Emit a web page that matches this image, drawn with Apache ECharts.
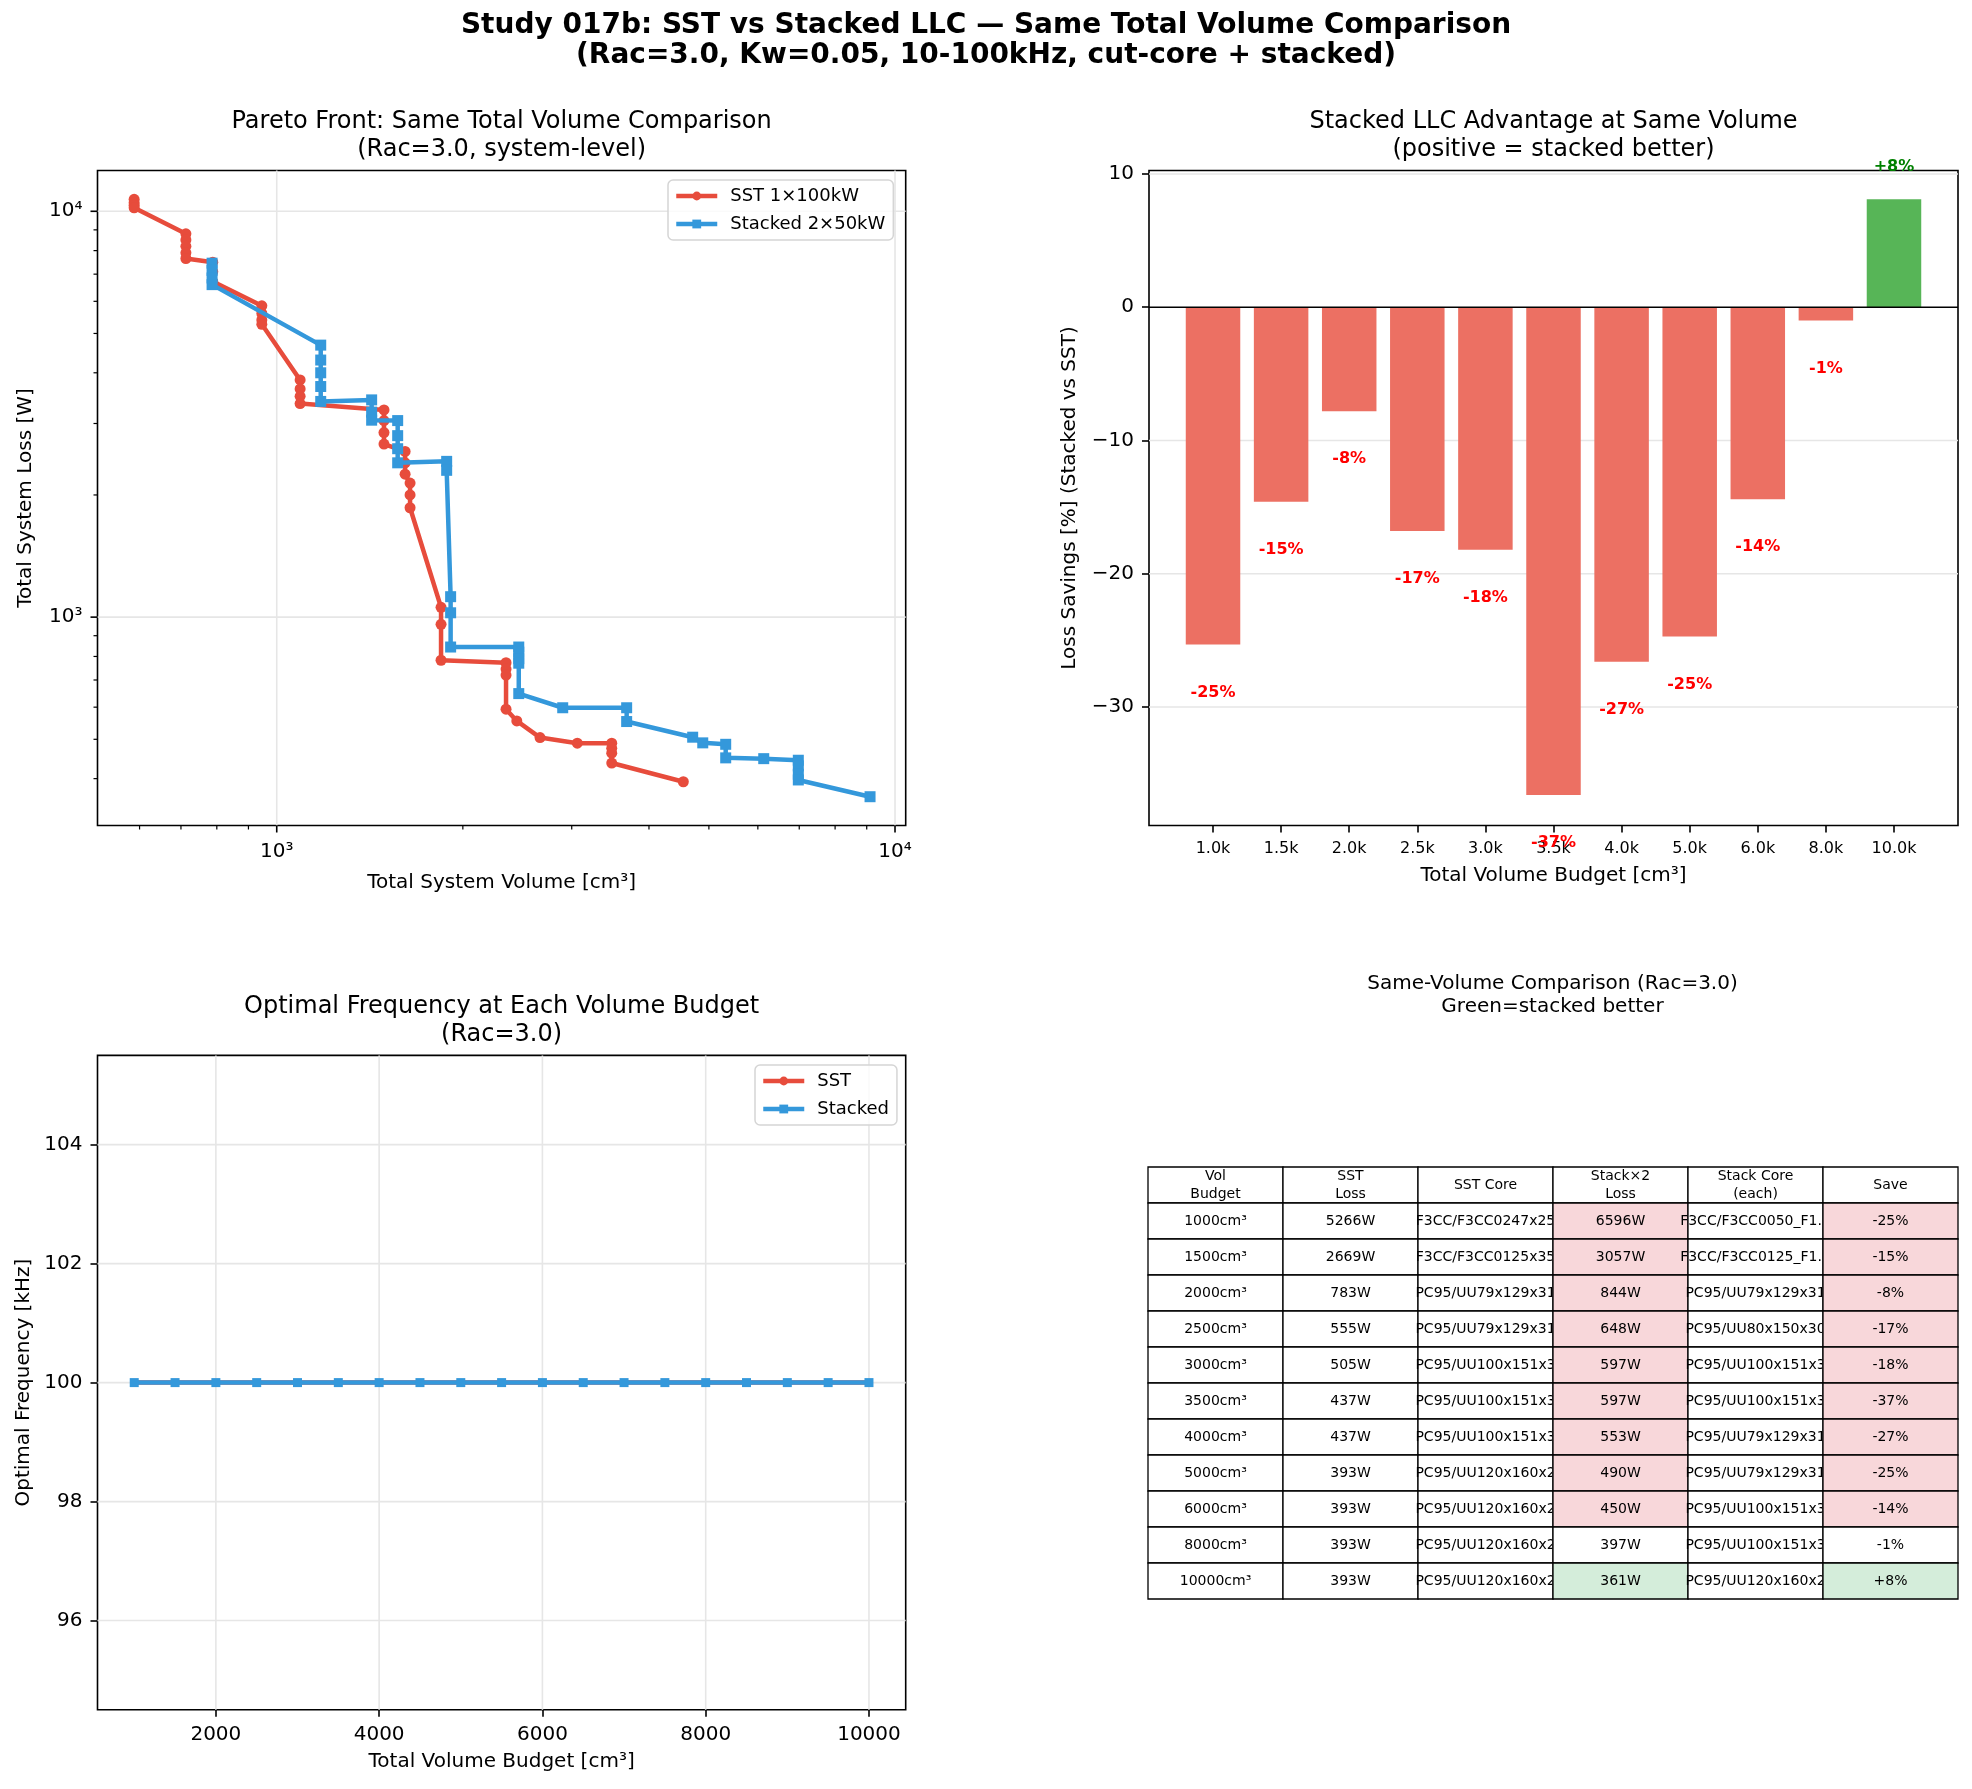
<!DOCTYPE html>
<html>
<head>
<meta charset="utf-8">
<title>Study 017b: SST vs Stacked LLC</title>
<script src="https://cdn.jsdelivr.net/npm/echarts@6/dist/echarts.min.js"></script>
<style>
  html, body { margin: 0; padding: 0; background: #fff; }
  #chart { width: 1972px; height: 1789px; }
</style>
</head>
<body>
<div id="chart"></div>
<script>
// ---- Pareto front data (system volume cm³, system loss W) ----
const sstVolume = [588, 588, 588, 588, 713, 713, 713, 713, 713, 788, 788, 788, 946, 946, 946, 946,
  1091, 1091, 1091, 1091, 1491, 1491, 1491, 1491, 1613, 1613, 1613, 1643, 1643, 1643,
  1844, 1844, 1844, 2349, 2349, 2349, 2349, 2445, 2666, 3063, 3482, 3482, 3482, 3482, 4546];
const sstLoss = [10700, 10500, 10350, 10200, 8800, 8500, 8200, 7900, 7650, 7490, 7100, 6710, 5850, 5600, 5400, 5266,
  3840, 3650, 3500, 3360, 3240, 3050, 2850, 2669, 2560, 2400, 2250, 2140, 2000, 1860,
  1057, 960, 783, 772, 745, 720, 593, 555, 505, 489, 489, 475, 462, 437, 393];
const stackVolume = [786, 786, 786, 786, 1178, 1178, 1178, 1178, 1178, 1424, 1424, 1424,
  1569, 1569, 1569, 1569, 1883, 1883, 1911, 1911, 1911, 2463, 2463, 2463, 2463, 2463,
  2901, 3681, 3681, 4707, 4887, 5323, 5323, 6133, 6976, 6976, 6976, 6976, 9112];
const stackLoss = [7450, 7150, 6850, 6596, 4680, 4300, 4000, 3700, 3400, 3430, 3200, 3057,
  3050, 2800, 2600, 2400, 2420, 2300, 1123, 1025, 844, 844, 820, 790, 770, 648,
  598, 598, 553, 506, 490, 486, 450, 448, 444, 430, 410, 397, 361];

// log-axis tick values
const logMajor = [1000, 10000];
const volMinor = [600, 700, 800, 900, 2000, 3000, 4000, 5000, 6000, 7000, 8000, 9000];
const lossMinor = [400, 500, 600, 700, 800, 900, 2000, 3000, 4000, 5000, 6000, 7000, 8000, 9000];

// ---- savings per volume budget ----
const budgetLabels = ['1.0k', '1.5k', '2.0k', '2.5k', '3.0k', '3.5k', '4.0k', '5.0k', '6.0k', '8.0k', '10.0k'];
const lossSavings = [-25.3, -14.6, -7.8, -16.8, -18.2, -36.6, -26.6, -24.7, -14.4, -1.0, 8.1];
const savingTicks = [-30, -20, -10, 0, 10];

// ---- optimal frequency per budget ----
const freqVolume = [1000, 1500, 2000, 2500, 3000, 3500, 4000, 4500, 5000, 5500, 6000, 6500, 7000, 7500, 8000, 8500, 9000, 9500, 10000];
const sstFreq = [100, 100, 100, 100, 100, 100, 100, 100, 100, 100, 100, 100, 100, 100, 100, 100, 100, 100, 100];
const stackFreq = [100, 100, 100, 100, 100, 100, 100, 100, 100, 100, 100, 100, 100, 100, 100, 100, 100, 100, 100];
const freqXTicks = [2000, 4000, 6000, 8000, 10000];
const freqYTicks = [96, 98, 100, 102, 104];

// ---- comparison table ----
const tableHeader = ['Vol\nBudget', 'SST\nLoss', 'SST Core', 'Stack×2\nLoss', 'Stack Core\n(each)', 'Save'];
const volBudget = ['1000cm³', '1500cm³', '2000cm³', '2500cm³', '3000cm³', '3500cm³', '4000cm³', '5000cm³', '6000cm³', '8000cm³', '10000cm³'];
const sstLossW = [5266, 2669, 783, 555, 505, 437, 437, 393, 393, 393, 393];
const sstCore = ['F3CC/F3CC0247x25', 'F3CC/F3CC0125x35', 'PC95/UU79x129x31', 'PC95/UU79x129x31', 'PC95/UU100x151x3',
  'PC95/UU100x151x3', 'PC95/UU100x151x3', 'PC95/UU120x160x2', 'PC95/UU120x160x2', 'PC95/UU120x160x2', 'PC95/UU120x160x2'];
const stackLossW = [6596, 3057, 844, 648, 597, 597, 553, 490, 450, 397, 361];
const stackCore = ['F3CC/F3CC0050_F1.5', 'F3CC/F3CC0125_F1.5', 'PC95/UU79x129x31', 'PC95/UU80x150x30', 'PC95/UU100x151x3',
  'PC95/UU100x151x3', 'PC95/UU79x129x31', 'PC95/UU79x129x31', 'PC95/UU100x151x3', 'PC95/UU100x151x3', 'PC95/UU120x160x2'];
const saveText = ['-25%', '-15%', '-8%', '-17%', '-18%', '-37%', '-27%', '-25%', '-14%', '-1%', '+8%'];

// ---- styling ----
const RED = '#e74c3c';
const BLUE = '#3498db';
const FONT = 'DejaVu Sans';
const GRID_COLOR = '#e6e6e6';
const TICK_LINE = { color: '#000', width: 1.6 };

const chart = echarts.init(document.getElementById('chart'), null, { renderer: 'canvas' });

function minusFmt(v) {
  return v < 0 ? '\u2212' + (-v) : String(v);
}
function supLabel(v) {
  return v >= 10000 ? '10\u2074' : '10\u00b3';
}

// axis ranges (matplotlib auto-margins)
const paretoXRange = [513, 10406];
const paretoYRange = [306.6, 12604];
const barXRange = [-0.94, 10.94];
const barYRange = [-38.89, 10.26];
const freqXRange = [550, 10450];
const freqYRange = [94.5, 105.5];

// grid / reference lines drawn through the axes: item = [value, 0 vertical | 1 horizontal]
function gridLineSeries(xi, xr, yr, xs, ys, color, width, z) {
  const data = xs.map(v => [v, 0]).concat(ys.map(v => [v, 1]));
  return {
    type: 'custom', xAxisIndex: xi, yAxisIndex: xi, clip: false, silent: true, z: z,
    data: data,
    renderItem: function (params, api) {
      const v = api.value(0);
      const vertical = api.value(1) === 0;
      const a = vertical ? api.coord([v, yr[0]]) : api.coord([xr[0], v]);
      const b = vertical ? api.coord([v, yr[1]]) : api.coord([xr[1], v]);
      return { type: 'line', shape: { x1: a[0], y1: a[1], x2: b[0], y2: b[1] }, style: { stroke: color, lineWidth: width } };
    }
  };
}

// tick marks + labels for the log-log pareto plot
const logTickData = [];
logMajor.forEach(v => logTickData.push([v, paretoYRange[0], 0]));
volMinor.forEach(v => logTickData.push([v, paretoYRange[0], 1]));
logMajor.forEach(v => logTickData.push([paretoXRange[0], v, 2]));
lossMinor.forEach(v => logTickData.push([paretoXRange[0], v, 3]));

function renderLogTicks(params, api) {
  const kind = api.value(2);
  const p = api.coord([api.value(0), api.value(1)]);
  const major = kind === 0 || kind === 2;
  const len = major ? 7 : 4;
  const w = major ? 1.6 : 1.2;
  const out = [];
  if (kind < 2) {
    out.push({ type: 'line', shape: { x1: p[0], y1: p[1], x2: p[0], y2: p[1] + len }, style: { stroke: '#000', lineWidth: w } });
    if (major) {
      out.push({ type: 'text', style: { x: p[0], y: p[1] + 16, text: supLabel(api.value(0)), align: 'center', verticalAlign: 'top', font: '20px "DejaVu Sans"', fill: '#000' } });
    }
  } else {
    out.push({ type: 'line', shape: { x1: p[0], y1: p[1], x2: p[0] - len, y2: p[1] }, style: { stroke: '#000', lineWidth: w } });
    if (major) {
      out.push({ type: 'text', style: { x: p[0] - 15, y: p[1], text: supLabel(api.value(1)), align: 'right', verticalAlign: 'middle', font: '20px "DejaVu Sans"', fill: '#000' } });
    }
  }
  return { type: 'group', children: out };
}

// value labels under / above each saving bar
const savingLabelData = lossSavings.map((v, i) => [i, v < 0 ? v - 3.6 : v + 2.4]);
function renderSavingLabel(params, api) {
  const v = lossSavings[params.dataIndex];
  const p = api.coord([api.value(0), api.value(1)]);
  return {
    type: 'text',
    style: {
      x: p[0], y: p[1], text: (v > 0 ? '+' : '') + v.toFixed(0) + '%',
      align: 'center', verticalAlign: 'middle',
      font: 'bold 16px "DejaVu Sans"', fill: v > 0 ? '#008000' : '#ff0000'
    }
  };
}

// table cells
const tableCells = [];
const tableData = [];
tableHeader.forEach((t, c) => { tableCells.push({ text: t, fill: '#ffffff' }); tableData.push([c, 0]); });
volBudget.forEach((vb, r) => {
  const s = lossSavings[r];
  const hi = s > 0 ? '#d4edda' : (s <= -2 ? '#f8d7da' : '#ffffff');
  const row = [vb, sstLossW[r] + 'W', sstCore[r], stackLossW[r] + 'W', stackCore[r], saveText[r]];
  const fills = ['#ffffff', '#ffffff', '#ffffff', hi, '#ffffff', hi];
  row.forEach((t, c) => { tableCells.push({ text: t, fill: fills[c] }); tableData.push([c, r + 1]); });
});

function renderCellBox(params, api) {
  const cell = tableCells[params.dataIndex];
  const c = api.coord([api.value(0), api.value(1)]);
  const s = api.size([1, 1]);
  return {
    type: 'rect',
    shape: { x: c[0] - s[0] / 2, y: c[1] - s[1] / 2, width: s[0], height: s[1] },
    style: { fill: cell.fill, stroke: '#000', lineWidth: 1.3 }
  };
}
// text may run into the cell on its left, but is hidden by the cell on its right
function renderCellText(params, api) {
  const cell = tableCells[params.dataIndex];
  const c = api.coord([api.value(0), api.value(1)]);
  const s = api.size([1, 1]);
  return {
    type: 'text',
    clipPath: { type: 'rect', shape: { x: c[0] - s[0] / 2 - 40, y: c[1] - s[1] / 2, width: s[0] + 40 - 0.7, height: s[1] } },
    style: { x: c[0], y: c[1], text: cell.text, align: 'center', verticalAlign: 'middle',
      font: '14px "DejaVu Sans"', lineHeight: 18, fill: '#000' }
  };
}

function axisName(gap) {
  return { nameLocation: 'middle', nameGap: gap, nameMoveOverlap: false,
    nameTextStyle: { fontSize: 20, color: '#000', fontFamily: FONT } };
}
function gridBox(left, top, width, height) {
  return { left, top, width, height, show: true, borderColor: '#000', borderWidth: 1.6,
    backgroundColor: '#fff', containLabel: false, outerBoundsMode: 'none' };
}
const NO_LINE = { show: false, onZero: false };
const legendBase = {
  orient: 'vertical', itemWidth: 41, itemHeight: 11, itemGap: 10,
  padding: [7, 8, 7, 6], backgroundColor: 'rgba(255,255,255,0.8)',
  borderColor: '#d5d5d5', borderWidth: 1.5, borderRadius: 5,
  lineStyle: { width: 4.5 },
  textStyle: { fontSize: 18, lineHeight: 18, color: '#000', fontFamily: FONT, padding: [0, 0, 0, 8] }
};

const option = {
  animation: false,
  backgroundColor: '#fff',
  textStyle: { fontFamily: FONT, color: '#000' },
  title: [
    { text: 'Study 017b: SST vs Stacked LLC — Same Total Volume Comparison\n(Rac=3.0, Kw=0.05, 10-100kHz, cut-core + stacked)',
      left: 986, top: 11, textAlign: 'center', padding: 0,
      textStyle: { fontSize: 28, fontWeight: 'bold', lineHeight: 30, color: '#000', fontFamily: FONT } },
    { text: 'Pareto Front: Same Total Volume Comparison\n(Rac=3.0, system-level)',
      left: 501.6, top: 108, textAlign: 'center', padding: 0,
      textStyle: { fontSize: 24, fontWeight: 'normal', lineHeight: 28, color: '#000', fontFamily: FONT } },
    { text: 'Stacked LLC Advantage at Same Volume\n(positive = stacked better)',
      left: 1553.5, top: 108, textAlign: 'center', padding: 0,
      textStyle: { fontSize: 24, fontWeight: 'normal', lineHeight: 28, color: '#000', fontFamily: FONT } },
    { text: 'Optimal Frequency at Each Volume Budget\n(Rac=3.0)',
      left: 501.6, top: 993, textAlign: 'center', padding: 0,
      textStyle: { fontSize: 24, fontWeight: 'normal', lineHeight: 28, color: '#000', fontFamily: FONT } },
    { text: 'Same-Volume Comparison (Rac=3.0)\nGreen=stacked better',
      left: 1552.5, top: 971.6, textAlign: 'center', padding: 0,
      textStyle: { fontSize: 20, fontWeight: 'normal', lineHeight: 23.4, color: '#000', fontFamily: FONT } }
  ],
  legend: [
    Object.assign({}, legendBase, { data: ['SST 1×100kW', 'Stacked 2×50kW'], left: 668, top: 180 }),
    Object.assign({}, legendBase, { data: ['SST', 'Stacked'], left: 755, top: 1065 })
  ],
  grid: [
    gridBox(97.5, 170.5, 808.2, 655),
    gridBox(1149, 170.5, 809, 655),
    gridBox(97.5, 1055.4, 808.2, 654.4),
    { left: 1148, top: 1167, width: 810, height: 432, show: false, containLabel: false, outerBoundsMode: 'none' }
  ],
  xAxis: [
    Object.assign({ gridIndex: 0, type: 'log', logBase: 10, min: paretoXRange[0], max: paretoXRange[1],
      axisLine: NO_LINE, axisTick: { show: false }, axisLabel: { show: false }, splitLine: { show: false },
      minorTick: { show: false }, name: 'Total System Volume [cm³]' }, axisName(47)),
    Object.assign({ gridIndex: 1, type: 'value', min: barXRange[0], max: barXRange[1],
      axisLine: NO_LINE,
      axisTick: { show: true, customValues: budgetLabels.map((_, i) => i), length: 7, lineStyle: TICK_LINE },
      axisLabel: { customValues: budgetLabels.map((_, i) => i), formatter: v => budgetLabels[Math.round(v)],
        fontSize: 16, margin: 15, color: '#000', fontFamily: FONT },
      splitLine: { show: false }, name: 'Total Volume Budget [cm³]' }, axisName(40)),
    Object.assign({ gridIndex: 2, type: 'value', min: freqXRange[0], max: freqXRange[1],
      axisLine: NO_LINE,
      axisTick: { show: true, customValues: freqXTicks, length: 7, lineStyle: TICK_LINE },
      axisLabel: { customValues: freqXTicks, formatter: v => String(v), fontSize: 20, margin: 15, color: '#000', fontFamily: FONT },
      splitLine: { show: false }, name: 'Total Volume Budget [cm³]' }, axisName(42)),
    { gridIndex: 3, type: 'category', data: tableHeader.map((_, i) => i), show: false, axisLine: NO_LINE }
  ],
  yAxis: [
    Object.assign({ gridIndex: 0, type: 'log', logBase: 10, min: paretoYRange[0], max: paretoYRange[1],
      axisLine: NO_LINE, axisTick: { show: false }, axisLabel: { show: false }, splitLine: { show: false },
      minorTick: { show: false }, name: 'Total System Loss [W]' }, axisName(62)),
    Object.assign({ gridIndex: 1, type: 'value', min: barYRange[0], max: barYRange[1],
      axisLine: NO_LINE,
      axisTick: { show: true, customValues: savingTicks, length: 7, lineStyle: TICK_LINE },
      axisLabel: { customValues: savingTicks, formatter: minusFmt, fontSize: 20, margin: 15, color: '#000', fontFamily: FONT },
      splitLine: { show: false }, name: 'Loss Savings [%] (Stacked vs SST)' }, axisName(69)),
    Object.assign({ gridIndex: 2, type: 'value', min: freqYRange[0], max: freqYRange[1],
      axisLine: NO_LINE,
      axisTick: { show: true, customValues: freqYTicks, length: 7, lineStyle: TICK_LINE },
      axisLabel: { customValues: freqYTicks, formatter: v => String(v), fontSize: 20, margin: 15, color: '#000', fontFamily: FONT },
      splitLine: { show: false }, name: 'Optimal Frequency [kHz]' }, axisName(64)),
    { gridIndex: 3, type: 'category', data: ['h'].concat(volBudget), inverse: true, show: false, axisLine: NO_LINE }
  ],
  series: [
    // pareto
    gridLineSeries(0, paretoXRange, paretoYRange, logMajor, logMajor, GRID_COLOR, 1.6, 1),
    {
      type: 'custom', xAxisIndex: 0, yAxisIndex: 0, clip: false, silent: true, z: 1,
      data: logTickData, renderItem: renderLogTicks
    },
    {
      type: 'line', name: 'SST 1×100kW', xAxisIndex: 0, yAxisIndex: 0, z: 3,
      data: sstVolume.map((v, i) => [v, sstLoss[i]]),
      symbol: 'circle', symbolSize: 11, showAllSymbol: true,
      lineStyle: { color: RED, width: 4.5 }, itemStyle: { color: RED }
    },
    {
      type: 'line', name: 'Stacked 2×50kW', xAxisIndex: 0, yAxisIndex: 0, z: 4,
      data: stackVolume.map((v, i) => [v, stackLoss[i]]),
      symbol: 'rect', symbolSize: 11, showAllSymbol: true,
      lineStyle: { color: BLUE, width: 4.5 }, itemStyle: { color: BLUE }
    },
    // savings bars
    gridLineSeries(1, barXRange, barYRange, [], savingTicks.filter(v => v !== 0), GRID_COLOR, 1.6, 1),
    {
      type: 'bar', name: 'savings', xAxisIndex: 1, yAxisIndex: 1, z: 2, barWidth: 54.5,
      data: lossSavings.map((v, i) => ({ value: [i, v], itemStyle: { color: v > 0 ? '#57b557' : '#ec7063' } }))
    },
    gridLineSeries(1, barXRange, barYRange, [], [0], '#000', 1.6, 4),
    {
      type: 'custom', xAxisIndex: 1, yAxisIndex: 1, z: 6, clip: false, silent: true,
      data: savingLabelData, renderItem: renderSavingLabel
    },
    // optimal frequency
    gridLineSeries(2, freqXRange, freqYRange, freqXTicks, freqYTicks, GRID_COLOR, 1.6, 1),
    {
      type: 'line', name: 'SST', xAxisIndex: 2, yAxisIndex: 2, z: 3,
      data: freqVolume.map((v, i) => [v, sstFreq[i]]),
      symbol: 'circle', symbolSize: 7, showAllSymbol: true,
      lineStyle: { color: RED, width: 4.5 }, itemStyle: { color: RED }
    },
    {
      type: 'line', name: 'Stacked', xAxisIndex: 2, yAxisIndex: 2, z: 4,
      data: freqVolume.map((v, i) => [v, stackFreq[i]]),
      symbol: 'rect', symbolSize: 9, showAllSymbol: true,
      lineStyle: { color: BLUE, width: 4.5 }, itemStyle: { color: BLUE }
    },
    // comparison table
    {
      type: 'custom', xAxisIndex: 3, yAxisIndex: 3, clip: false, silent: true, z: 2,
      data: tableData, renderItem: renderCellBox
    },
    {
      type: 'custom', xAxisIndex: 3, yAxisIndex: 3, clip: false, silent: true, z: 3,
      data: tableData, renderItem: renderCellText
    }
  ]
};

chart.setOption(option);
</script>
</body>
</html>
